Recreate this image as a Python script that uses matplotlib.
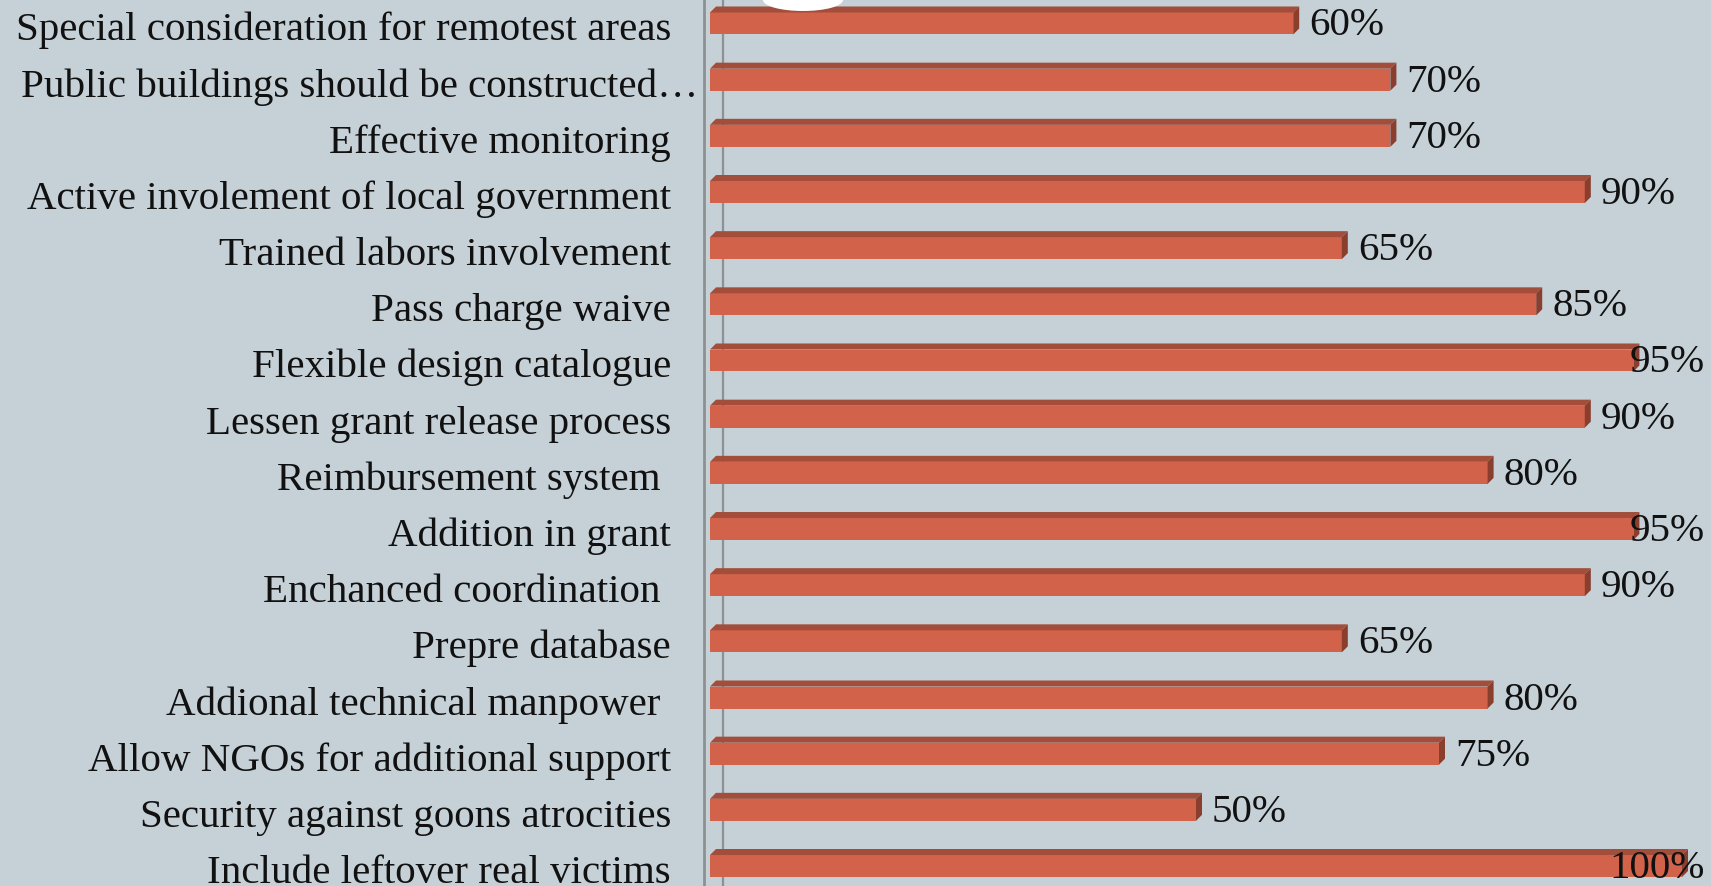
import matplotlib.pyplot as plt
from matplotlib.patches import Polygon, Ellipse
from matplotlib.transforms import ScaledTranslation, blended_transform_factory

# categories from top to bottom
categories = [
    'Special consideration for remotest areas',
    'Public buildings should be constructed\u2026',
    'Effective monitoring',
    'Active involement of local government',
    'Trained labors involvement',
    'Pass charge waive',
    'Flexible design catalogue',
    'Lessen grant release process',
    'Reimbursement system ',
    'Addition in grant',
    'Enchanced coordination ',
    'Prepre database',
    'Addional technical manpower ',
    'Allow NGOs for additional support',
    'Security against goons atrocities',
    'Include leftover real victims',
]
values = [60, 70, 70, 90, 65, 85, 95, 90, 80, 95, 90, 65, 80, 75, 50, 100]

BG = '#c5d0d7'
FRONT = '#d2634a'
TOP = '#a24e3b'
SIDE = '#8a3e2e'
GRID = '#8e9193'
FS = 29.5

W, H = 1711, 886
x0 = 710          # pixel position of the zero line
px_per_pct = 9.72
row = 56.17       # pixel spacing between bars

plt.rcParams['font.family'] = ['Liberation Serif', 'DejaVu Serif']

fig = plt.figure(figsize=(W / 100, H / 100), dpi=100, facecolor=BG)
ax = fig.add_axes([x0 / W, 0, 1 - x0 / W, 1])
ax.set_facecolor(BG)

n = len(categories)
ypos = list(range(n))[::-1]
ax.set_xlim(0, (W - x0) / px_per_pct)
ax.set_ylim(-(886 - 866) / row, n - 1 + 23.5 / row)

h = 22 / row
dx = 6 / px_per_pct
dy = 6 / row

# axis lines
ax.axvline(-6 / px_per_pct, color=GRID, lw=2, clip_on=False, zorder=1)
ax.axvline(13 / px_per_pct, color=GRID, lw=1.6, zorder=1)

ax.barh(ypos, values, height=h, color=FRONT, zorder=3)
for yc, v in zip(ypos, values):
    top = yc + h / 2
    bot = yc - h / 2
    ax.add_patch(Polygon([(0, top), (v, top), (v + dx, top + dy), (dx, top + dy)],
                         closed=True, color=TOP, zorder=3, lw=0))
    ax.add_patch(Polygon([(v, bot), (v + dx, bot + dy), (v + dx, top + dy), (v, top)],
                         closed=True, color=SIDE, zorder=3, lw=0))

# value labels; the widest ones are pulled back inside the right edge
edge = blended_transform_factory(ax.transAxes, ax.transData)
right_limit = (1705 - x0) / (W - x0)
down = ScaledTranslation(0, -12 / 100, fig.dpi_scale_trans)
for yc, v in zip(ypos, values):
    if v >= 95:
        ax.text(right_limit, yc, f'{v}%', transform=edge + down, ha='right',
                va='baseline', fontsize=FS, color='#111111', zorder=4)
    else:
        ax.annotate(f'{v}%', xy=(v, yc), xytext=(16 * 0.72, -12 * 0.72),
                    textcoords='offset points', ha='left', va='baseline',
                    fontsize=FS, color='#111111', zorder=4)

ax.set_yticks(ypos)
ax.set_yticklabels(categories, fontsize=FS, color='#111111')
ax.tick_params(axis='y', length=0, pad=28)
ax.set_xticks([])
for s in ax.spines.values():
    s.set_visible(False)

# sit the labels on a baseline just under each bar
for i, lab in enumerate(ax.get_yticklabels()):
    lab.set_verticalalignment('baseline')
    shift_x = 27 / 100 if i == 1 else 0  # the truncated label runs past the others
    lab.set_transform(lab.get_transform()
                      + ScaledTranslation(shift_x, -17 / 100, fig.dpi_scale_trans))

# white shape clipped by the top edge
fig.patches.append(Ellipse((803 / W, 1.0), 80 / W, 22 / H, transform=fig.transFigure,
                           facecolor='white', edgecolor='none', zorder=0))

fig.savefig('out.png', dpi=100, facecolor=BG)
